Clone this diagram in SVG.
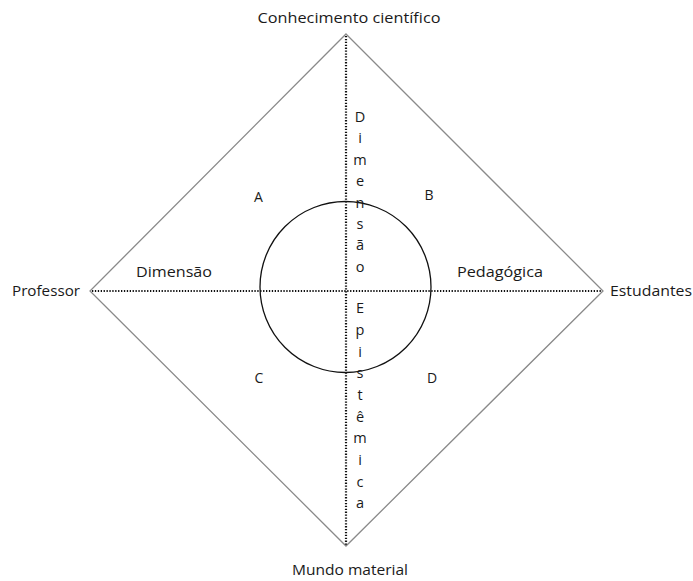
<svg xmlns="http://www.w3.org/2000/svg" width="693" height="581" viewBox="0 0 693 581">
<style>
text{font-family:"Open Sans","Liberation Sans",sans-serif;fill:#1a1a1a;font-size:14.5px}
.v{text-anchor:middle;font-size:14.5px}
.q{font-size:14px;text-anchor:middle}
.dia{fill:none;stroke:#8a8a8a;stroke-width:1.3}
.dot{stroke:#111;stroke-width:2.2;stroke-dasharray:1.3 1.6;fill:none}
</style>
<rect width="693" height="581" fill="#fff"/>
<g id="connectors">
<polygon class="dia" points="346,34 603,291 346,546 90,291"/>
<line class="dot" x1="92" y1="291" x2="601" y2="291"/>
<line class="dot" x1="346" y1="36" x2="346" y2="545"/>
</g>
<g id="circle"><circle cx="345.5" cy="287" r="85.5" fill="none" stroke="#111" stroke-width="1.3"/></g>
<g id="top"><text x="349" y="23" text-anchor="middle" textLength="183" lengthAdjust="spacingAndGlyphs">Conhecimento científico</text></g>
<g id="left"><text x="12" y="296" textLength="68" lengthAdjust="spacingAndGlyphs">Professor</text></g>
<g id="right"><text x="610" y="296" textLength="82" lengthAdjust="spacingAndGlyphs">Estudantes</text></g>
<g id="bottom"><text x="350" y="575" text-anchor="middle" textLength="116" lengthAdjust="spacingAndGlyphs">Mundo material</text></g>
<g id="dim-left"><text x="136" y="277" textLength="76" lengthAdjust="spacingAndGlyphs">Dimensão</text></g>
<g id="dim-right"><text x="457" y="277" textLength="86" lengthAdjust="spacingAndGlyphs">Pedagógica</text></g>
<g id="quadrants">
<text class="q" x="258.5" y="202">A</text>
<text class="q" x="429" y="200">B</text>
<text class="q" x="259" y="383">C</text>
<text class="q" x="432" y="383">D</text>
</g>
<g id="vertical-text">
<text class="v" x="360" y="122">D</text>
<text class="v" x="360" y="143.4">i</text>
<text class="v" x="360" y="164.8">m</text>
<text class="v" x="360" y="186.2">e</text>
<text class="v" x="360" y="207.6">n</text>
<text class="v" x="360" y="229">s</text>
<text class="v" x="360" y="250.4">ã</text>
<text class="v" x="360" y="271.8">o</text>
<text class="v" x="360" y="313">E</text>
<text class="v" x="360" y="335">p</text>
<text class="v" x="360" y="356.5">i</text>
<text class="v" x="360" y="378">s</text>
<text class="v" x="360" y="400">t</text>
<text class="v" x="360" y="421.5">ê</text>
<text class="v" x="360" y="443">m</text>
<text class="v" x="360" y="465">i</text>
<text class="v" x="360" y="486.5">c</text>
<text class="v" x="360" y="508">a</text>
</g>
</svg>
